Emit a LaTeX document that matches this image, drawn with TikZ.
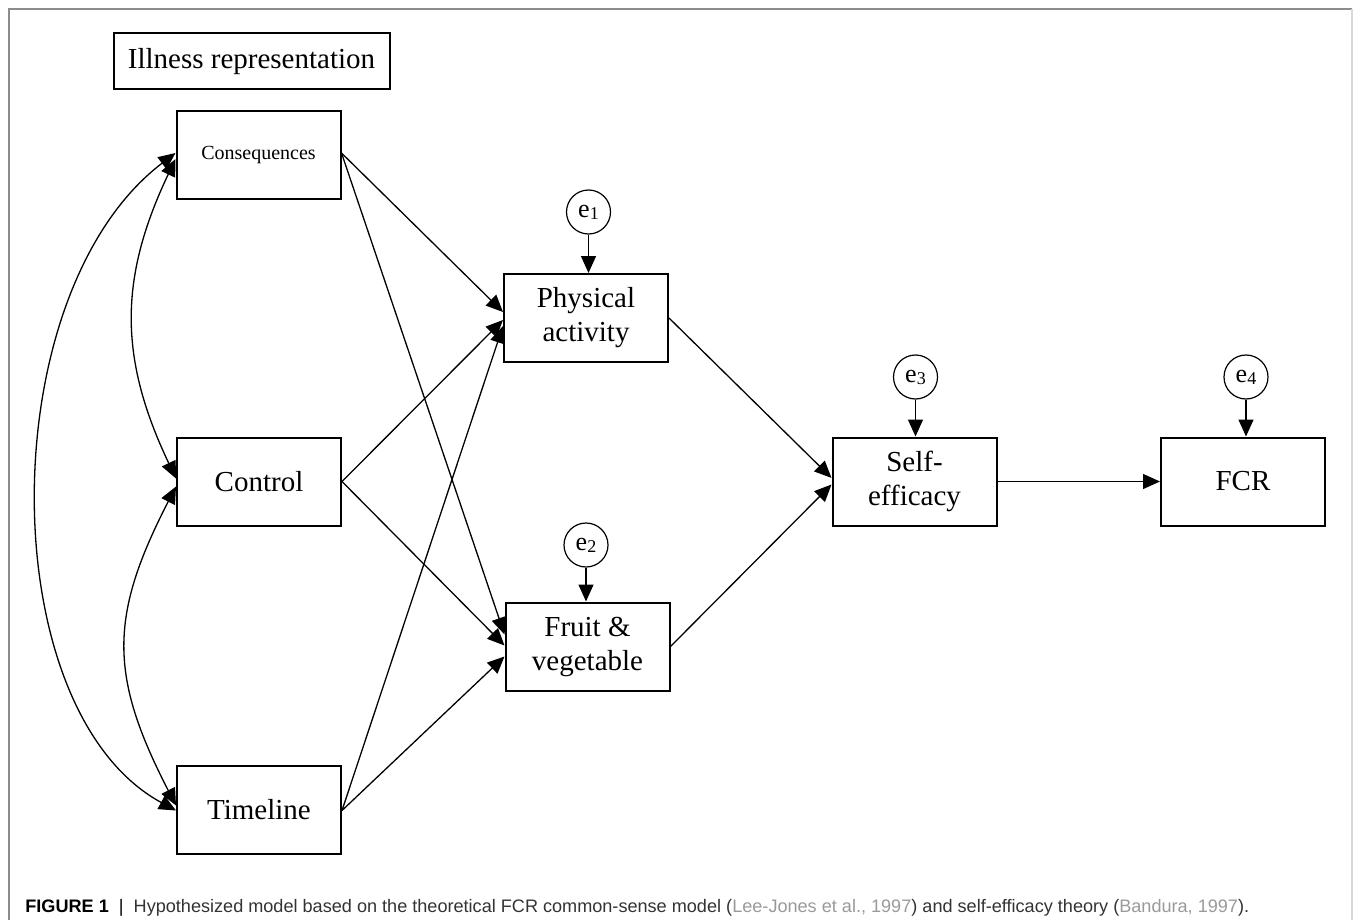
\documentclass[tikz,border=0pt]{standalone}
\usepackage{fontspec}
\setmainfont{Liberation Serif}
\newfontfamily\capfont{Liberation Sans}
\usetikzlibrary{arrows.meta}
\definecolor{framegray}{HTML}{8C8C8C}
\definecolor{framelight}{HTML}{D8D8D8}
\definecolor{citegray}{HTML}{9A9A9A}
\definecolor{captxt}{HTML}{333333}
\begin{document}
\begin{tikzpicture}[x=0.5pt,y=-0.5pt,
  box/.style={draw,line width=1pt,minimum width=82pt,minimum height=44pt,inner sep=0pt,align=center,font=\fontsize{14.5}{17}\selectfont},
  err/.style={draw,circle,line width=0.6pt,minimum size=22pt,inner sep=0pt,font=\fontsize{13}{15}\selectfont},
  tip/.tip={Triangle[length=8.5pt,width=7.5pt]},
  arr/.style={line width=0.65pt,-tip},
  dbl/.style={line width=0.65pt,tip-tip}
]
\useasboundingbox (0,0) rectangle (1355,920);
\fill[white] (0,0) rectangle (1355,920);
\draw[framegray,line width=0.8pt] (9,920) -- (9,9) -- (1352,9);
\draw[framelight,line width=0.8pt] (1352,9) -- (1352,920);

\node[draw,line width=1pt,minimum width=138pt,minimum height=28pt,inner sep=0pt,font=\fontsize{14.5}{17}\selectfont] (ill) at (251.5,61.5) {Illness representation};
\node[box,font=\fontsize{10}{12}\selectfont] (cons) at (258.5,155) {Consequences};
\node[box] (ctrl) at (259,481.5) {Control};
\node[box] (time) at (259,809.5) {Timeline};
\node[box] (pa) at (586,318) {Physical\\activity};
\node[box] (fv) at (587.5,646.5) {Fruit \&\\vegetable};
\node[box] (se) at (914.5,481.5) {Self-\\efficacy};
\node[box] (fcr) at (1243,481.5) {FCR};

\node[err] (e1) at (588.5,212) {e{\fontsize{9}{9}\selectfont\raisebox{-0.25ex}{1}}};
\node[err] (e2) at (586,545) {e{\fontsize{9}{9}\selectfont\raisebox{-0.25ex}{2}}};
\node[err] (e3) at (915.5,377) {e{\fontsize{9}{9}\selectfont\raisebox{-0.25ex}{3}}};
\node[err] (e4) at (1246,377) {e{\fontsize{9}{9}\selectfont\raisebox{-0.25ex}{4}}};

\draw[arr] (e1) -- (e1 |- pa.north);
\draw[arr] (e2) -- (e2 |- fv.north);
\draw[arr] (e3) -- (e3 |- se.north);
\draw[arr] (e4) -- (e4 |- fcr.north);

\draw[arr] ([yshift=1pt]cons.east) -- ([yshift=3pt]pa.west);
\draw[arr] ([yshift=1pt]cons.east) -- ([yshift=6pt]fv.west);
\draw[arr] (ctrl.east) -- ([yshift=-1pt]pa.west);
\draw[arr] (ctrl.east) -- ([yshift=0.5pt]fv.west);
\draw[arr] ([yshift=-0.5pt]time.east) -- ([yshift=-4pt]pa.west);
\draw[arr] ([yshift=-0.5pt]time.east) -- ([yshift=-5pt]fv.west);

\draw[arr] (pa.east) -- ([yshift=1.8pt]se.west);
\draw[arr] (fv.east) -- ([yshift=-1.5pt]se.west);
\draw[arr] (se.east) -- (fcr.west);

\draw[dbl] ([yshift=1pt]cons.west) .. controls +(-184,140) and +(-184,-100) .. ([yshift=-0.5pt]time.west);
\draw[dbl] ([yshift=-2pt]cons.west) .. controls +(-57,120) and +(-57,-120) .. ([yshift=1.5pt]ctrl.west);
\draw[dbl] ([yshift=-2.5pt]ctrl.west) .. controls +(-67,130) and +(-67,-130) .. ([yshift=2pt]time.west);

\node[anchor=base west,inner sep=0pt,font=\capfont\fontsize{9.05}{11}\selectfont,text=captxt] (cap) at (25,912)
  {{\color{black}\textbf{FIGURE 1}}\ \ {\color{black}|}\ \ Hypothesized model based on the theoretical FCR common-sense model ({\color{citegray}Lee-Jones et al., 1997}) and self-efficacy theory ({\color{citegray}Bandura, 1997}).};
\end{tikzpicture}
\end{document}
